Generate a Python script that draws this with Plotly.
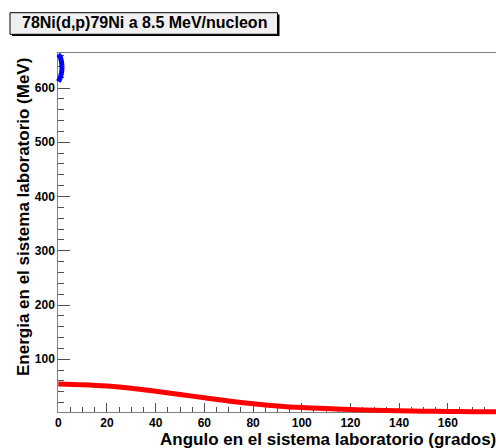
import plotly.graph_objects as go

# ---- data ----
red_angle = [0, 10, 20, 30, 40, 50, 60, 70, 80, 90, 100, 110, 120, 130, 140, 150, 160, 170, 180]
red_energy = [54.5, 53, 50.5, 46.5, 41, 35, 29, 23, 18, 14, 11, 9, 7.5, 6, 5, 4.3, 3.8, 3.4, 3.2]

blue_angle = [0, 0.7, 1.15, 1.4, 1.5, 1.35, 1.0, 0.5, 0]
blue_energy = [662, 658, 652, 645, 637, 629, 622, 616, 612]

title_text = "78Ni(d,p)79Ni a 8.5 MeV/nucleon"
x_title = "Angulo en el sistema laboratorio (grados)"
y_title = "Energia en el sistema laboratorio (MeV)"

x_range = [0, 179.8]
y_range = [3.3, 664]

# ---- layout geometry (pixels) ----
W, H = 496, 448
ML, MR, MT, MB = 46, 0, 44, 28
PW, PH = W - ML - MR, H - MT - MB
FX0, FX1 = 58.3, 496.0      # frame left/right px
FY0, FY1 = 411.7, 53.3      # frame bottom/top px

def px(xp):
    return (xp - ML) / PW

def py(yp):
    return (H - MB - yp) / PH

# overlay axis ranges so that data scale is identical but clipping region is larger
ppx = (FX1 - FX0) / (x_range[1] - x_range[0])
ppy = (FY0 - FY1) / (y_range[1] - y_range[0])
x2_range = [x_range[0] - (FX0 - ML) / ppx, x_range[1] + (W - MR - FX1) / ppx]
y2_range = [y_range[0] - ((H - MB) - FY0) / ppy, y_range[1] + (FY1 - MT) / ppy]

FONT = "Liberation Sans, Arial, Helvetica, sans-serif"
AXC = "#808080"
TKC = "#505050"

fig = go.Figure()
# empty trace to anchor the main axes
fig.add_trace(go.Scatter(x=[], y=[], xaxis="x", yaxis="y", showlegend=False))
fig.add_trace(go.Scatter(x=red_angle, y=red_energy, mode="lines",
                         line=dict(color="#ff0000", width=5, shape="spline"),
                         xaxis="x2", yaxis="y2", showlegend=False, hoverinfo="skip"))
fig.add_trace(go.Scatter(x=blue_angle, y=blue_energy, mode="lines",
                         line=dict(color="#0000ff", width=5, shape="spline"),
                         xaxis="x2", yaxis="y2", showlegend=False, hoverinfo="skip"))

fig.update_layout(
    width=W, height=H,
    margin=dict(l=ML, r=MR, t=MT, b=MB, pad=0),
    paper_bgcolor="white", plot_bgcolor="rgba(0,0,0,0)",
    showlegend=False,
    xaxis=dict(domain=[px(FX0), px(FX1)], range=x_range, anchor="y",
               showgrid=False, zeroline=False,
               showline=True, linecolor=AXC, linewidth=1, mirror=True,
               ticks="inside", ticklen=9, tickcolor=TKC, tickwidth=1,
               tickmode="linear", tick0=0, dtick=20,
               minor=dict(ticks="inside", ticklen=4.5, tickcolor=TKC, dtick=5, tick0=0, showgrid=False),
               tickfont=dict(family=FONT, size=12, color="black", weight="bold")),
    yaxis=dict(domain=[py(FY0), py(FY1)], range=y_range, anchor="x",
               showgrid=False, zeroline=False,
               showline=True, linecolor=AXC, linewidth=1, mirror=False,
               ticks="inside", ticklen=12, tickcolor=TKC, tickwidth=1,
               tickmode="linear", tick0=0, dtick=100,
               minor=dict(ticks="inside", ticklen=6, tickcolor=TKC, dtick=20, tick0=0, showgrid=False),
               tickfont=dict(family=FONT, size=12, color="black", weight="bold")),
    xaxis2=dict(domain=[0, 1], range=x2_range, anchor="y2", visible=False, fixedrange=True),
    yaxis2=dict(domain=[0, 1], range=y2_range, anchor="x2", visible=False, fixedrange=True),
)

# title pave with shadow
fig.add_shape(type="rect", xref="paper", yref="paper",
              x0=px(12), x1=px(279.5), y0=py(36), y1=py(14.5),
              fillcolor="black", line=dict(width=0), layer="above")
fig.add_shape(type="rect", xref="paper", yref="paper",
              x0=px(10), x1=px(277.5), y0=py(34.3), y1=py(12.7),
              fillcolor="#f0f0f0", line=dict(color="black", width=1), layer="above")

fig.add_annotation(text=title_text, xref="paper", yref="paper",
                   x=px(20), y=py(23), xanchor="left", yanchor="middle",
                   showarrow=False, font=dict(family=FONT, size=16, color="black", weight="bold"))
fig.add_annotation(text=x_title, xref="paper", yref="paper",
                   x=px(497.5), y=py(439.5), xanchor="right", yanchor="middle",
                   showarrow=False, font=dict(family=FONT, size=17, color="black", weight="bold"))
fig.add_annotation(text=y_title, xref="paper", yref="paper", textangle=-90,
                   x=px(23), y=py(56), xanchor="center", yanchor="top",
                   showarrow=False, font=dict(family=FONT, size=17, color="black", weight="bold"))

fig.write_html("out.html")
